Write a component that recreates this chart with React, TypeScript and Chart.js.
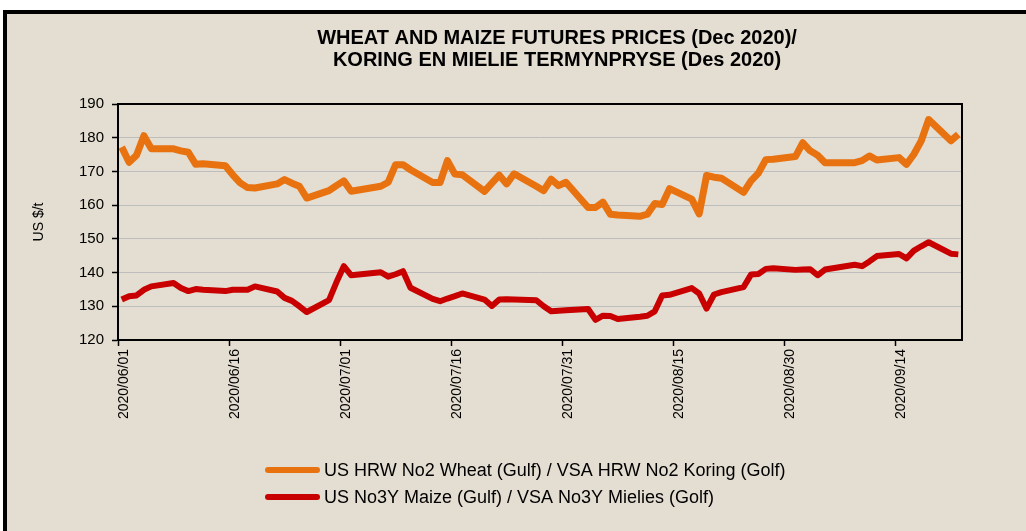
import { useEffect, useRef } from 'react';
import { Chart, registerables } from 'chart.js';

Chart.register(...registerables);

// Trading days (2020, MM-DD)
const tradeDates = [
  '06-01', '06-02', '06-03', '06-04', '06-05',
  '06-08', '06-09', '06-10', '06-11', '06-12',
  '06-15', '06-16', '06-17', '06-18', '06-19',
  '06-22', '06-23', '06-24', '06-25', '06-26',
  '06-29', '06-30', '07-01', '07-02',
  '07-06', '07-07', '07-08', '07-09', '07-10',
  '07-13', '07-14', '07-15', '07-16', '07-17',
  '07-20', '07-21', '07-22', '07-23', '07-24',
  '07-27', '07-28', '07-29', '07-30', '07-31',
  '08-03', '08-04', '08-05', '08-06', '08-07',
  '08-10', '08-11', '08-12', '08-13', '08-14',
  '08-17', '08-18', '08-19', '08-20', '08-21',
  '08-24', '08-25', '08-26', '08-27', '08-28',
  '08-31', '09-01', '09-02', '09-03', '09-04',
  '09-08', '09-09', '09-10', '09-11',
  '09-14', '09-15', '09-16', '09-17', '09-18',
  '09-21', '09-22',
];

const wheatPrices = [
  177.2, 172.7, 174.8, 180.6, 176.7,
  176.7, 176.1, 175.7, 172.1, 172.3,
  171.7, 169.0, 166.6, 165.2, 165.1,
  166.3, 167.6, 166.5, 165.6, 162.1,
  164.3, 165.8, 167.2, 164.1,
  165.6, 166.8, 172.0, 172.0, 170.5,
  166.7, 166.7, 173.2, 169.2, 169.0,
  164.1, 166.5, 168.9, 166.3, 169.3,
  165.6, 164.3, 167.7, 165.8, 166.8,
  159.3, 159.3, 160.9, 157.3, 157.1,
  156.7, 157.3, 160.5, 160.2, 164.9,
  161.8, 157.4, 168.8, 168.3, 168.0,
  163.8, 167.2, 169.5, 173.5, 173.6,
  174.4, 178.5, 176.1, 174.8, 172.6,
  172.6, 173.2, 174.6, 173.4,
  174.1, 172.1, 175.1, 179.1, 185.4,
  179.1, 181.0,
];

const maizePrices = [
  132.0, 133.0, 133.2, 134.9, 135.9,
  136.9, 135.4, 134.5, 135.1, 134.9,
  134.5, 134.9, 134.9, 134.9, 135.9,
  134.4, 132.5, 131.6, 130.0, 128.3,
  131.8, 137.1, 141.9, 139.2,
  140.1, 138.8, 139.5, 140.4, 135.5,
  132.2, 131.5, 132.3, 133.0, 133.8,
  132.0, 130.1, 132.0, 132.1, 132.0,
  131.8, 130.0, 128.5, 128.7, 128.8,
  129.2, 126.0, 127.2, 127.1, 126.2,
  126.9, 127.2, 128.5, 133.2, 133.4,
  135.4, 133.8, 129.3, 133.5, 134.2,
  135.7, 139.4, 139.6, 141.1, 141.3,
  140.8, 140.9, 141.0, 139.2, 140.9,
  142.3, 141.9, 143.3, 144.9,
  145.5, 144.2, 146.5, 147.8, 149.0,
  145.6, 145.4,
];

const seriesLabels = [
  'US HRW No2 Wheat (Gulf) / VSA HRW No2 Koring (Golf)',
  'US No3Y Maize (Gulf) / VSA No3Y Mielies (Golf)',
];

const titleLines = [
  'WHEAT AND MAIZE FUTURES PRICES (Dec 2020)/',
  'KORING EN MIELIE TERMYNPRYSE (Des 2020)',
];

const xTickDays = [0, 15, 30, 45, 60, 75, 90, 105];
const xTickLabels = [
  '2020/06/01', '2020/06/16', '2020/07/01', '2020/07/16',
  '2020/07/31', '2020/08/15', '2020/08/30', '2020/09/14',
];

const yAxisTitle = 'US $/t';

const FONT = '"Liberation Sans", Arial, sans-serif';
const ORANGE = '#E8720F';
const RED = '#C80000';

function dayIndex(md: string): number {
  const [m, d] = md.split('-').map(Number);
  return Math.round((Date.UTC(2020, m - 1, d) - Date.UTC(2020, 5, 1)) / 86400000);
}

const decorPlugin = {
  id: 'decor',
  beforeDraw(chart: any) {
    const { ctx, width, height } = chart;
    ctx.save();
    ctx.fillStyle = '#ffffff';
    ctx.fillRect(0, 0, width, height);
    ctx.fillStyle = '#E4DDD1';
    ctx.fillRect(3, 10, width, height);
    ctx.strokeStyle = '#000000';
    ctx.lineWidth = 4;
    ctx.strokeRect(5, 12, width + 20, height + 20);
    ctx.restore();
  },
  afterDraw(chart: any) {
    const { ctx, chartArea } = chart;
    ctx.save();
    // plot frame
    ctx.strokeStyle = '#000000';
    ctx.lineWidth = 2;
    ctx.strokeRect(chartArea.left, chartArea.top, chartArea.right - chartArea.left, chartArea.bottom - chartArea.top);
    // title
    ctx.fillStyle = '#000000';
    ctx.font = `bold 20px ${FONT}`;
    ctx.textAlign = 'center';
    ctx.textBaseline = 'middle';
    ctx.fillText(titleLines[0], 557, 38);
    ctx.fillText(titleLines[1], 557, 60);
    // legend
    const ys = [470, 497];
    ctx.textAlign = 'left';
    ctx.font = `18px ${FONT}`;
    chart.data.datasets.forEach((ds: any, i: number) => {
      ctx.strokeStyle = ds.borderColor;
      ctx.lineWidth = 6;
      ctx.lineCap = 'round';
      ctx.beginPath();
      ctx.moveTo(268, ys[i]);
      ctx.lineTo(317, ys[i]);
      ctx.stroke();
      ctx.fillStyle = '#000000';
      ctx.fillText(ds.label, 324, ys[i] + 1);
    });
    ctx.restore();
  },
};

export default function App() {
  const ref = useRef<HTMLCanvasElement | null>(null);

  useEffect(() => {
    if (!ref.current) return;
    const xs = tradeDates.map((d) => dayIndex(d) + 0.5);
    const chart = new Chart(ref.current, {
      type: 'line',
      data: {
        datasets: [
          {
            label: seriesLabels[0],
            data: xs.map((x, i) => ({ x, y: wheatPrices[i] })),
            borderColor: ORANGE,
            backgroundColor: ORANGE,
            borderWidth: 7,
            pointRadius: 0,
            tension: 0,
            borderJoinStyle: 'round',
            borderCapStyle: 'butt',
          },
          {
            label: seriesLabels[1],
            data: xs.map((x, i) => ({ x, y: maizePrices[i] })),
            borderColor: RED,
            backgroundColor: RED,
            borderWidth: 6,
            pointRadius: 0,
            tension: 0,
            borderJoinStyle: 'round',
            borderCapStyle: 'butt',
          },
        ],
      },
      options: {
        responsive: false,
        animation: false,
        devicePixelRatio: 1,
        layout: { padding: { left: 10, right: 64, top: 104, bottom: 101 } },
        plugins: {
          legend: { display: false },
          title: { display: false },
          tooltip: { enabled: false },
        },
        scales: {
          x: {
            type: 'linear',
            min: 0,
            max: 114,
            afterFit: (s: any) => { s.height = 90; },
            afterBuildTicks: (s: any) => { s.ticks = xTickDays.map((v) => ({ value: v })); },
            ticks: {
              autoSkip: false,
              minRotation: 90,
              maxRotation: 90,
              padding: 3,
              labelOffset: 6,
              color: '#000000',
              font: { family: FONT, size: 14 },
              callback: (v: any) => {
                const i = xTickDays.indexOf(Number(v));
                return i >= 0 ? xTickLabels[i] : '';
              },
            },
            grid: { drawOnChartArea: false, drawTicks: true, tickLength: 6, tickColor: '#000000', tickWidth: 1.5 },
            border: { color: '#000000', width: 2 },
          },
          y: {
            min: 120,
            max: 190,
            afterFit: (s: any) => { s.width = 108; },
            ticks: {
              stepSize: 10,
              padding: 8,
              color: '#000000',
              font: { family: FONT, size: 15 },
            },
            title: {
              display: true,
              text: yAxisTitle,
              color: '#000000',
              font: { family: FONT, size: 14 },
              padding: { top: 21, bottom: 0 },
            },
            grid: { color: '#BDBDBD', lineWidth: 1, tickLength: 6, tickColor: '#000000', tickWidth: 1.5 },
            border: { color: '#000000', width: 2 },
          },
        },
      },
      plugins: [decorPlugin],
    } as any);
    return () => chart.destroy();
  }, []);

  return (
    <canvas
      ref={ref}
      width={1026}
      height={531}
      style={{ position: 'fixed', left: 0, top: 0, width: 1026, height: 531, display: 'block' }}
    />
  );
}
